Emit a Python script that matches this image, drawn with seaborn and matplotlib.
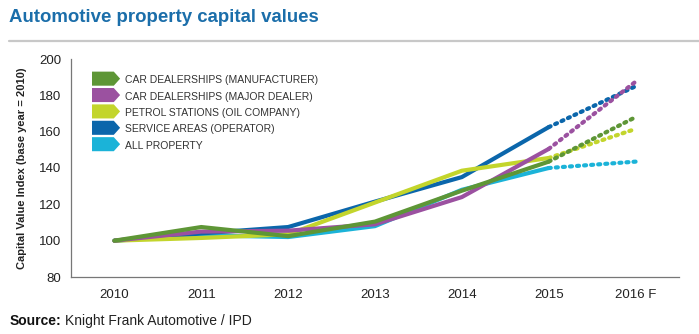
import matplotlib
matplotlib.use("Agg")
import matplotlib.pyplot as plt
import matplotlib.patches as mpatches
from matplotlib.legend_handler import HandlerPatch
import seaborn as sns
import pandas as pd
import numpy as np

years = ["2010", "2011", "2012", "2013", "2014", "2015", "2016 F"]
series_names = [
    "CAR DEALERSHIPS (MANUFACTURER)",
    "CAR DEALERSHIPS (MAJOR DEALER)",
    "PETROL STATIONS (OIL COMPANY)",
    "SERVICE AREAS (OPERATOR)",
    "ALL PROPERTY",
]
manufacturer = [100, 107.5, 102.5, 110.5, 127.5, 143.5, 168]
major_dealer = [100, 105, 105.5, 109, 124, 150.5, 187.5]
petrol = [100, 101.5, 103.5, 121, 138.5, 145.5, 161.5]
service = [100, 104, 107.5, 121.5, 135, 162.5, 185]
all_property = [100, 103, 102, 108, 128, 140, 143.5]
colors = ["#5e9636", "#9b51a0", "#c3d52c", "#0b66ab", "#1bb3d8"]

values = [manufacturer, major_dealer, petrol, service, all_property]
rows = []
for name, vals in zip(series_names, values):
    for i, v in enumerate(vals):
        rows.append({"series": name, "idx": i, "value": v})
df = pd.DataFrame(rows)
actual = df[df["idx"] <= 5]
forecast = df[df["idx"] >= 5]

sns.set_style("white")
plt.rcParams["font.family"] = ["Liberation Sans", "DejaVu Sans"]

fig = plt.figure(figsize=(6.99, 3.34), dpi=100)
ax = fig.add_axes([71 / 699, 1 - 277 / 334, (679 - 71) / 699, (277 - 59) / 334])

palette = dict(zip(series_names, colors))
draw_order = [series_names[i] for i in [4, 3, 2, 1, 0]]
for name in draw_order:
    sns.lineplot(data=actual[actual["series"] == name], x="idx", y="value",
                 color=palette[name], linewidth=3.0, ax=ax, legend=False,
                 solid_capstyle="round", solid_joinstyle="round")
    sns.lineplot(data=forecast[forecast["series"] == name], x="idx", y="value",
                 color=palette[name], linewidth=3.0, ax=ax, legend=False,
                 linestyle=(0, (0.5, 1.2)), dash_capstyle="round")

ax.set_xlim(-0.5, 6.5)
ax.set_ylim(80, 200)
ax.set_yticks(np.arange(80, 201, 20))
ax.set_xticks(range(len(years)))
ax.set_xticklabels(years)
ax.set_xticks(np.arange(0.5, 6.6, 1.0), minor=True)
ax.tick_params(axis="x", which="major", length=0, pad=9, labelsize=9.5, colors="#222222")
ax.tick_params(axis="x", which="minor", length=4, width=0.8, color="#777777", direction="out")
ax.tick_params(axis="y", which="major", length=5, width=0.8, color="#777777", direction="out",
               labelsize=9.5, labelcolor="#222222", pad=2)
ax.tick_params(axis="x", labelcolor="#222222")
for s in ["top", "right"]:
    ax.spines[s].set_visible(False)
for s in ["left", "bottom"]:
    ax.spines[s].set_color("#777777")
    ax.spines[s].set_linewidth(0.9)
ax.set_xlabel("")
ax.set_ylabel("Capital Value Index (base year = 2010)", fontsize=8, fontweight="bold",
              color="#222222", labelpad=9)


def make_arrow(legend, orig_handle, xdescent, ydescent, width, height, fontsize):
    y0 = -ydescent
    y1 = height
    h = y1 - y0
    tip = h * 0.45
    x0 = -xdescent
    pts = [(x0, y0), (x0 + width - tip, y0), (x0 + width, y0 + h / 2),
           (x0 + width - tip, y1), (x0, y1)]
    return mpatches.Polygon(pts, closed=True)


handles = [mpatches.Patch(facecolor=c, edgecolor="none") for c in colors]
leg = ax.legend(handles, series_names, loc="upper left",
                bbox_to_anchor=(92 / 699, 1 - 74 / 334), bbox_transform=fig.transFigure,
                frameon=False, fontsize=7.5, handlelength=2.7, handleheight=1.35,
                labelspacing=0.45, handletextpad=0.5, borderpad=0, borderaxespad=0,
                handler_map={mpatches.Patch: HandlerPatch(patch_func=make_arrow)})
for t in leg.get_texts():
    t.set_color("#333333")

fig.text(9 / 699, 1 - 17 / 334, "Automotive property capital values", fontsize=13.4,
         fontweight="bold", color="#1b6eaa", va="center", ha="left")
fig.add_artist(plt.Line2D([9 / 699, 1.0], [1 - 41 / 334, 1 - 41 / 334],
                          transform=fig.transFigure, color="#c8c8c8", linewidth=1.6))

src = fig.text(10 / 699, 1 - 321 / 334, "Source:", fontsize=10, fontweight="bold",
               color="#111111", va="center", ha="left")
fig.canvas.draw()
bb = src.get_window_extent(renderer=fig.canvas.get_renderer())
fig.text((bb.x1 + 3) / 699, 1 - 321 / 334, "Knight Frank Automotive / IPD", fontsize=10,
         color="#222222", va="center", ha="left")

fig.savefig("out.png", dpi=100)
